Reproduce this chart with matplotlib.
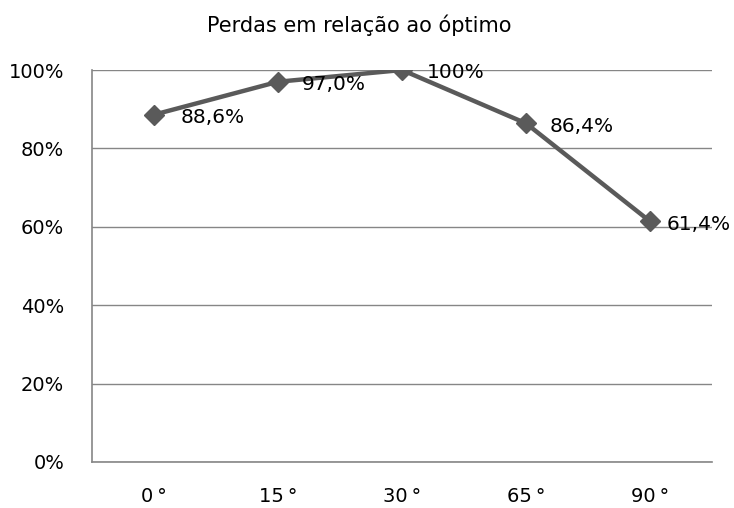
import matplotlib
matplotlib.use("Agg")
import matplotlib.pyplot as plt

plt.rcParams['font.family'] = ['DejaVu Sans']

# dados
angulos = ['0°', '15°', '30°', '65°', '90°']
perdas = [88.6, 97.0, 100.0, 86.4, 61.4]
rotulos = ['88,6%', '97,0%', '100%', '86,4%', '61,4%']
yticks = [0, 20, 40, 60, 80, 100]

# afastamento horizontal dos rótulos (pt)
desloc = [19, 17, 18, 17, 12]

fig = plt.figure(figsize=(7.34, 5.08), dpi=100)
ax = fig.add_axes([0.1253, 0.0906, 0.8447, 0.7716])

x = list(range(len(angulos)))
ax.plot(x, perdas, color='#5a5a5a', lw=3.2, marker='D', ms=10, zorder=3)

for xi, yi, r, d in zip(x, perdas, rotulos, desloc):
    ax.annotate(r, (xi, yi), xytext=(d, -2), textcoords='offset points',
                ha='left', va='center', fontsize=14.5, color='black', zorder=4)

ax.set_xlim(-0.5, len(angulos) - 0.5)
ax.set_ylim(0, 100)
ax.set_yticks(yticks)
ax.set_yticklabels(['%d%%' % v for v in yticks])
ax.set_xticks(x)
ax.set_xticklabels([a.replace('°', '\u2009°') for a in angulos])
ax.tick_params(axis='both', length=0, labelsize=14)
ax.tick_params(axis='x', pad=18)
ax.tick_params(axis='y', pad=20)

ax.grid(axis='y', color='#868686', lw=1)
ax.set_axisbelow(True)
for s in ['top', 'right']:
    ax.spines[s].set_visible(False)
for s in ['left', 'bottom']:
    ax.spines[s].set_color('#868686')
    ax.spines[s].set_linewidth(1.2)

fig.text(0.49, 0.95, 'Perdas em relação ao óptimo', ha='center', va='center', fontsize=15)

fig.savefig('out.png', dpi=100)
